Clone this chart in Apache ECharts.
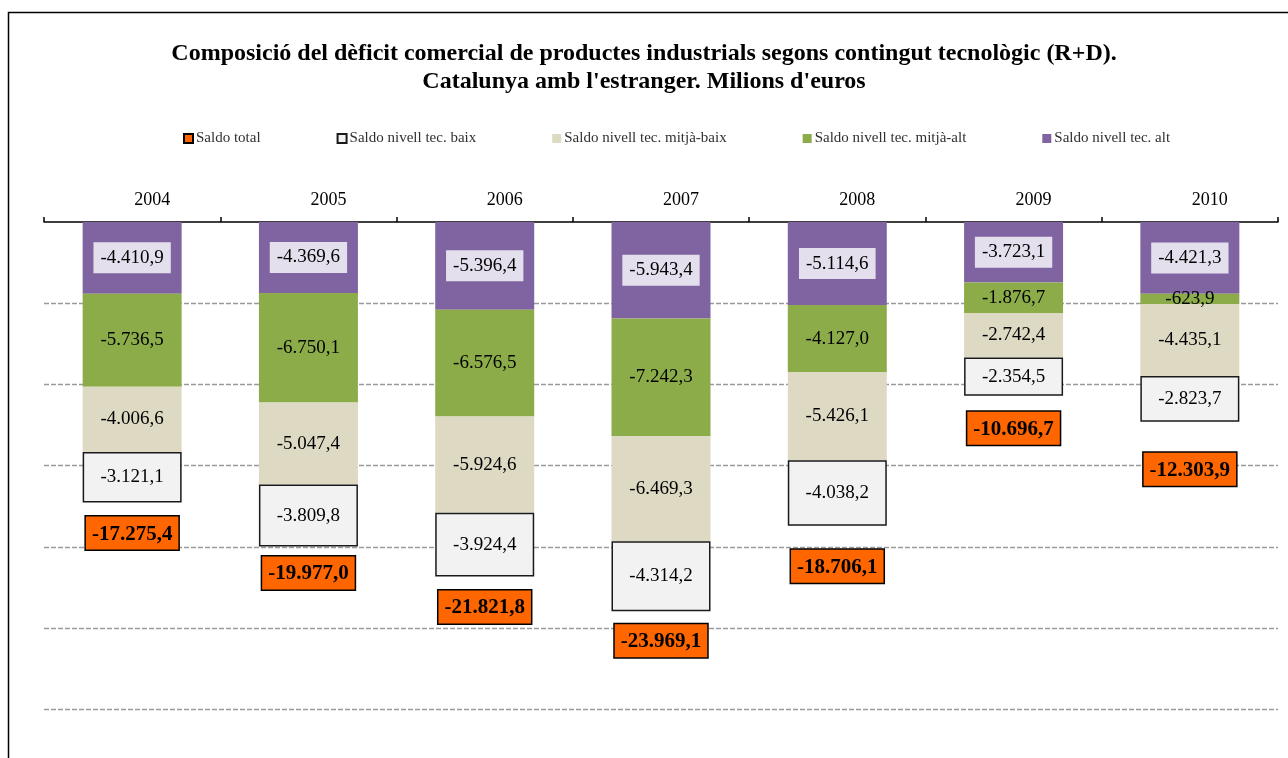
<!DOCTYPE html>
<html>
<head>
<meta charset="utf-8">
<script src="https://cdn.jsdelivr.net/npm/echarts@6/dist/echarts.min.js"></script>
<style>
  html, body { margin: 0; padding: 0; background: #fff; }
  #myChart { width: 1288px; height: 758px; }
</style>
</head>
<body>
<div id="myChart"></div>
<script>
var years = ['2004', '2005', '2006', '2007', '2008', '2009', '2010']
var saldoTotal = [-17275.4, -19977.0, -21821.8, -23969.1, -18706.1, -10696.7, -12303.9]
var saldoBaix = [-3121.1, -3809.8, -3924.4, -4314.2, -4038.2, -2354.5, -2823.7]
var saldoMitjaBaix = [-4006.6, -5047.4, -5924.6, -6469.3, -5426.1, -2742.4, -4435.1]
var saldoMitjaAlt = [-5736.5, -6750.1, -6576.5, -7242.3, -4127.0, -1876.7, -623.9]
var saldoAlt = [-4410.9, -4369.6, -5396.4, -5943.4, -5114.6, -3723.1, -4421.3]
var gridValues = [-5000, -10000, -15000, -20000, -25000, -30000]
// the orange labels were moved by hand in the original, a little
var totalLabelNudge = [0, -4, 0, -1, 10, 2, 17]

var serif = '"Liberation Serif", "DejaVu Serif", serif'

function fmt (v) {
  var neg = v < 0
  var parts = Math.abs(v).toFixed(1).split('.')
  var ent = parts[0].replace(/\B(?=(\d{3})+(?!\d))/g, '.')
  return (neg ? '-' : '') + ent + ',' + parts[1]
}

function barLabel (extra) {
  var l = {
    show: true,
    position: 'inside',
    color: '#000',
    fontFamily: serif,
    fontSize: 19,
    formatter: function (p) { return fmt(p.value) }
  }
  for (var k in extra) l[k] = extra[k]
  return l
}

var myChart = echarts.init(document.getElementById('myChart'))

myChart.setOption({
  animation: false,
  title: {
    text: 'Composició del dèficit comercial de productes industrials segons contingut tecnològic (R+D).\nCatalunya amb l\'estranger. Milions d\'euros',
    left: 'center',
    top: 35,
    textStyle: {
      fontFamily: serif,
      fontSize: 24,
      fontWeight: 'bold',
      color: '#000',
      lineHeight: 28
    }
  },
  graphic: [{
    type: 'rect',
    shape: { x: 8.5, y: 12.5, width: 1400, height: 900 },
    style: { fill: 'none', stroke: '#000', lineWidth: 1.5 },
    silent: true
  }],
  legend: {
    left: 183,
    top: 131,
    padding: 0,
    itemWidth: 9,
    itemHeight: 9,
    itemGap: 76,
    icon: 'rect',
    textStyle: { fontFamily: serif, fontSize: 15, color: '#303030', padding: [0, 0, 0, -2] },
    data: ['Saldo total', 'Saldo nivell tec. baix', 'Saldo nivell tec. mitjà-baix', 'Saldo nivell tec. mitjà-alt', 'Saldo nivell tec. alt']
  },
  grid: {
    left: 44,
    right: 10,
    top: 222,
    bottom: 0
  },
  xAxis: {
    type: 'category',
    position: 'top',
    data: years,
    axisLine: { lineStyle: { color: '#000', width: 1.5 } },
    axisTick: { show: true, interval: 0, inside: false, length: 5, lineStyle: { color: '#000', width: 1.5 } },
    axisLabel: { fontFamily: serif, fontSize: 18, color: '#000', margin: 13, padding: [0, 0, 0, 40] }
  },
  yAxis: {
    type: 'value',
    min: -33000,
    max: 0,
    axisLine: { show: false },
    axisTick: { show: false },
    axisLabel: { show: false },
    splitLine: { show: false }
  },
  series: [{
    name: 'grid',
    type: 'line',
    data: [],
    silent: true,
    markLine: {
      silent: true,
      z: 1,
      symbol: 'none',
      label: { show: false },
      lineStyle: { color: '#9a9a9a', type: [5, 2], width: 1.3 },
      data: gridValues.map(function (v) { return { yAxis: v } })
    }
  }, {
    name: 'Saldo nivell tec. alt',
    type: 'bar',
    stack: 'saldo',
    barWidth: 99,
    data: saldoAlt,
    itemStyle: { color: '#8064a2' },
    label: barLabel({ backgroundColor: '#e4dfec', padding: [7, 7, 5, 7] })
  }, {
    name: 'Saldo nivell tec. mitjà-alt',
    type: 'bar',
    stack: 'saldo',
    data: saldoMitjaAlt,
    itemStyle: { color: '#8cac4a' },
    label: barLabel({})
  }, {
    name: 'Saldo nivell tec. mitjà-baix',
    type: 'bar',
    stack: 'saldo',
    data: saldoMitjaBaix,
    itemStyle: { color: '#ddd9c3' },
    label: barLabel({})
  }, {
    name: 'Saldo nivell tec. baix',
    type: 'bar',
    stack: 'saldo',
    data: saldoBaix,
    itemStyle: { color: '#f2f2f2', borderColor: '#1a1a1a', borderWidth: 1.5 },
    label: barLabel({})
  }, {
    name: 'Saldo total',
    type: 'scatter',
    symbol: 'rect',
    symbolSize: 0,
    z: 5,
    itemStyle: { color: '#ff6600', borderColor: '#000', borderWidth: 1, opacity: 1 },
    data: saldoTotal.map(function (v, i) {
      return { value: v, label: { offset: [0, totalLabelNudge[i]] } }
    }),
    label: {
      show: true,
      position: 'bottom',
      distance: 14,
      color: '#000',
      fontFamily: serif,
      fontSize: 21,
      fontWeight: 'bold',
      backgroundColor: '#ff6600',
      borderColor: '#000',
      borderWidth: 1.5,
      padding: [7, 6, 5, 6],
      formatter: function (p) { return fmt(p.value) }
    }
  }]
})
</script>
</body>
</html>
